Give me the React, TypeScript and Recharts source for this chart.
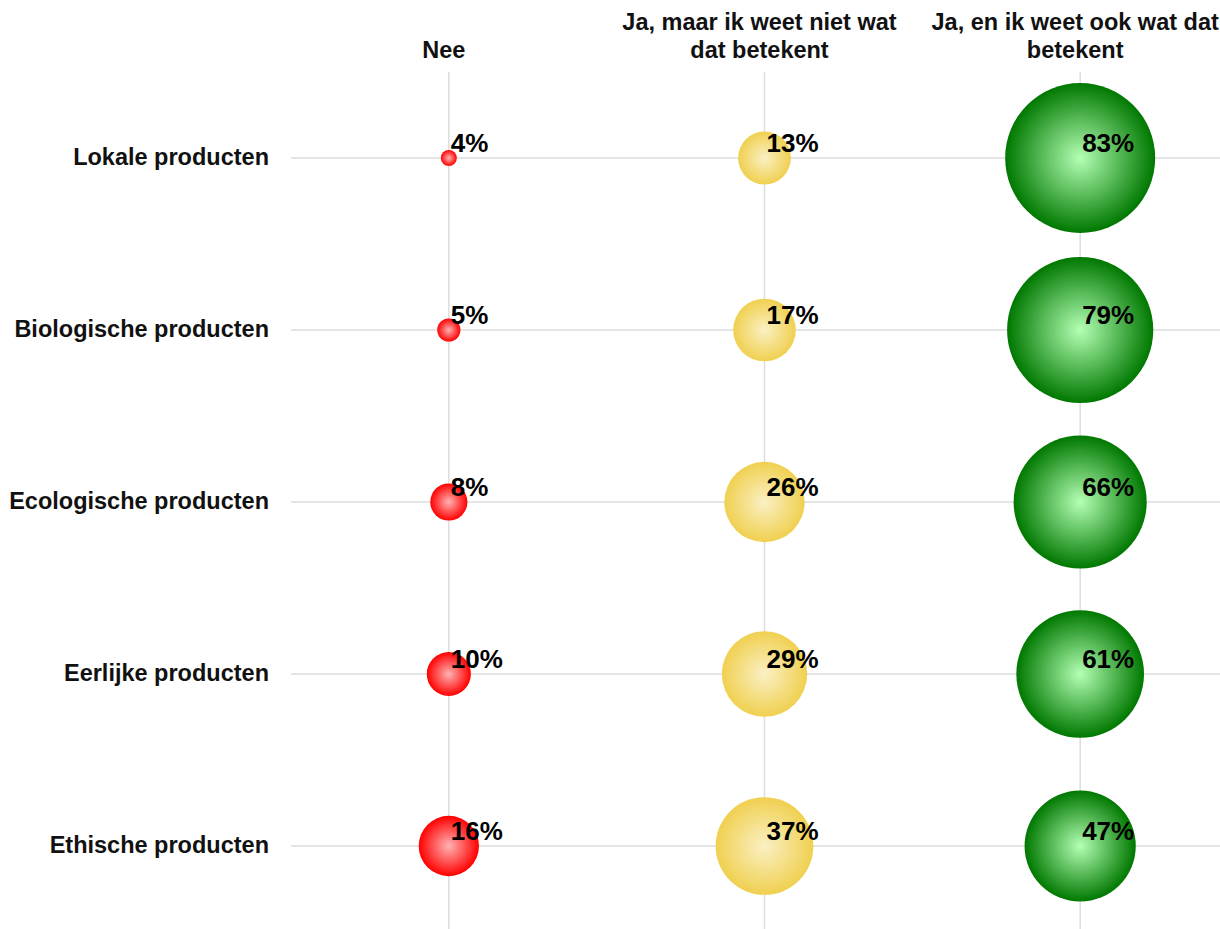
import React from "react";
import { CartesianGrid, Scatter, ScatterChart, XAxis, YAxis, ZAxis } from "recharts";

const answers = ["Nee", "Ja, maar ik weet niet wat dat betekent", "Ja, en ik weet ook wat dat betekent"];
const products = ["Lokale producten", "Biologische producten", "Ecologische producten", "Eerlijke producten", "Ethische producten"];
const nee = [4, 5, 8, 10, 16];
const jaNiet = [13, 17, 26, 29, 37];
const jaWel = [83, 79, 66, 61, 47];

const seriesValues = [nee, jaNiet, jaWel];
const gradients = [
  { id: "gRed", inner: "#ffb3b3", outer: "#ff0000" },
  { id: "gYellow", inner: "#faf0c4", outer: "#f0d050" },
  { id: "gGreen", inner: "#b4ffb4", outer: "#007800" },
];

const allValues = seriesValues.flat();
const zMin = Math.min(...allValues);
const zMax = Math.max(...allValues);

function wrap(text: string, max: number) {
  const words = text.split(" ");
  const lines: string[] = [];
  let cur = "";
  for (const w of words) {
    const next = cur ? cur + " " + w : w;
    if (next.length > max && cur) {
      lines.push(cur);
      cur = w;
    } else cur = next;
  }
  if (cur) lines.push(cur);
  return lines;
}

const HeaderTick = (props: any) => {
  const { x, payload } = props;
  const lines = wrap(answers[payload.value], 26);
  const base = 58 - (lines.length - 1) * 28;
  return (
    <text textAnchor="middle" fontSize={23.5} fontWeight="bold" fill="#111">
      {lines.map((l, i) => (
        <tspan key={i} x={x - 5} y={base + i * 28}>{l}</tspan>
      ))}
    </text>
  );
};

const RowTick = (props: any) => {
  const { x, y, payload } = props;
  return (
    <text x={x} y={y + 7} textAnchor="end" fontSize={23.5} fontWeight="bold" fill="#111">
      {products[payload.value]}
    </text>
  );
};

const makeBubble = (grad: string) => (props: any) => {
  const { cx, cy, size, payload } = props;
  const r = Math.sqrt(Math.max(size, 0) / Math.PI);
  return (
    <g>
      <circle cx={cx} cy={cy} r={r} fill={`url(#${grad})`} />
      <text x={cx + 2} y={cy - 6} fontSize={26} fontWeight="bold" fill="#000">
        {payload.v}%
      </text>
    </g>
  );
};

export default function App() {
  return (
    <div style={{ position: "absolute", left: 0, top: 0, width: 1220, height: 929, background: "#fff", fontFamily: "'Liberation Sans', Arial, sans-serif" }}>
      <ScatterChart width={1220} height={929} margin={{ top: 0, right: -18, bottom: -3, left: 0 }}>
        <defs>
          {gradients.map((g) => (
            <radialGradient key={g.id} id={g.id} cx="50%" cy="50%" r="50%">
              <stop offset="0%" stopColor={g.inner} />
              <stop offset="100%" stopColor={g.outer} />
            </radialGradient>
          ))}
        </defs>
        <CartesianGrid stroke="#dddddd" strokeWidth={1.5} syncWithTicks />
        <XAxis
          type="number"
          dataKey="xi"
          orientation="top"
          domain={[-0.5, answers.length - 0.5]}
          ticks={answers.map((_, i) => i)}
          height={72}
          axisLine={false}
          tickLine={false}
          tick={<HeaderTick />}
          interval={0}
        />
        <YAxis
          type="number"
          dataKey="yi"
          reversed
          domain={[-0.5, products.length - 0.5]}
          ticks={products.map((_, i) => i)}
          width={291}
          axisLine={false}
          tickLine={false}
          tickSize={0}
          tickMargin={22}
          tick={<RowTick />}
          interval={0}
        />
        <ZAxis type="number" dataKey="v" domain={[zMin, zMax]} range={[Math.PI * 64, Math.PI * 5625]} />
        {seriesValues.map((vals, si) => (
          <Scatter
            key={si}
            name={answers[si]}
            data={vals.map((v, yi) => ({ xi: si, yi, v }))}
            shape={makeBubble(gradients[si].id)}
            isAnimationActive={false}
          />
        ))}
      </ScatterChart>
    </div>
  );
}
